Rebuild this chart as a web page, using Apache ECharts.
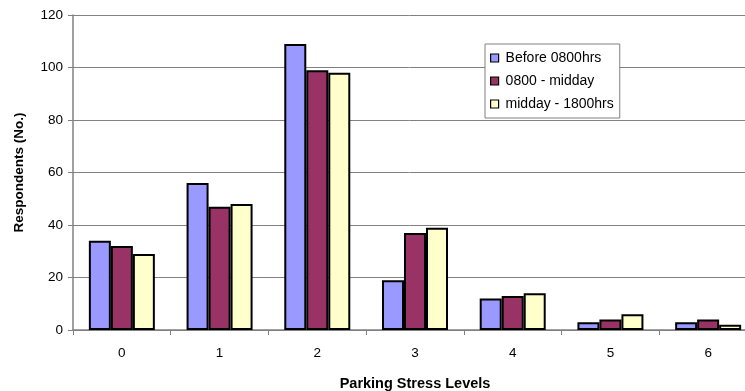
<!DOCTYPE html>
<html><head><meta charset="utf-8">
<script src="https://cdn.jsdelivr.net/npm/echarts@6/dist/echarts.min.js"></script>
<style>html,body{margin:0;padding:0;background:#fff}#c{width:745px;height:391px}</style>
</head><body><div id="c"></div>
<script>
const categories = ['0','1','2','3','4','5','6'];
const before0800 = [34, 56, 109, 19, 12, 3, 3];
const midMorning = [32, 47, 99, 37, 13, 4, 4];
const afternoon = [29, 48, 98, 39, 14, 6, 2];
const seriesNames = ['Before 0800hrs', '0800 - midday', 'midday - 1800hrs'];
const colors = ['#9999FF', '#993366', '#FFFFCC'];
const font = 'Liberation Sans, Arial, sans-serif';
const chart = echarts.init(document.getElementById('c'));
const mk = (name, data, color) => ({
  name, type: 'bar', data, barWidth: 22, barGap: '0%',
  itemStyle: { color, borderColor: '#000', borderWidth: 2 },
  emphasis: { disabled: true }
});
chart.setOption({
  animation: false,
  backgroundColor: '#fff',
  grid: { left: 73, right: -12, top: 15, bottom: 61, containLabel: false, outerBoundsMode: 'none' },
  legend: {
    orient: 'vertical', left: 485, top: 44,
    backgroundColor: '#fff', borderColor: '#808080', borderWidth: 1,
    padding: [7, 6, 7, 5], itemGap: 9, itemWidth: 8, itemHeight: 8,
    icon: 'rect',
    textStyle: { fontFamily: font, fontSize: 14, color: '#000', padding: [0, 0, 0, 2] },
    itemStyle: { borderColor: '#000', borderWidth: 1.2 },
    data: seriesNames
  },
  xAxis: {
    type: 'category', data: categories,
    name: 'Parking Stress Levels', nameLocation: 'middle', nameGap: 46,
    nameTextStyle: { fontFamily: font, fontSize: 14.5, fontWeight: 'bold', color: '#000' },
    axisLine: { lineStyle: { color: '#808080', width: 1.5 } },
    axisTick: { show: true, alignWithLabel: false, interval: 0, length: 5, lineStyle: { color: '#808080' } },
    axisLabel: { fontFamily: font, fontSize: 13.5, color: '#000', margin: 16 }
  },
  yAxis: {
    type: 'value', min: 0, max: 120, interval: 20,
    name: 'Respondents (No.)', nameLocation: 'middle', nameGap: 47, nameRotate: 90,
    nameTextStyle: { fontFamily: font, fontSize: 13.5, fontWeight: 'bold', color: '#000' },
    axisLine: { show: true, lineStyle: { color: '#808080', width: 1.5 } },
    axisTick: { show: true, length: 5, lineStyle: { color: '#808080' } },
    splitLine: { lineStyle: { color: '#808080', width: 1 } },
    axisLabel: { fontFamily: font, fontSize: 13.5, color: '#000', margin: 10 }
  },
  series: [
    mk(seriesNames[0], before0800, colors[0]),
    mk(seriesNames[1], midMorning, colors[1]),
    mk(seriesNames[2], afternoon, colors[2])
  ]
});
</script></body></html>
